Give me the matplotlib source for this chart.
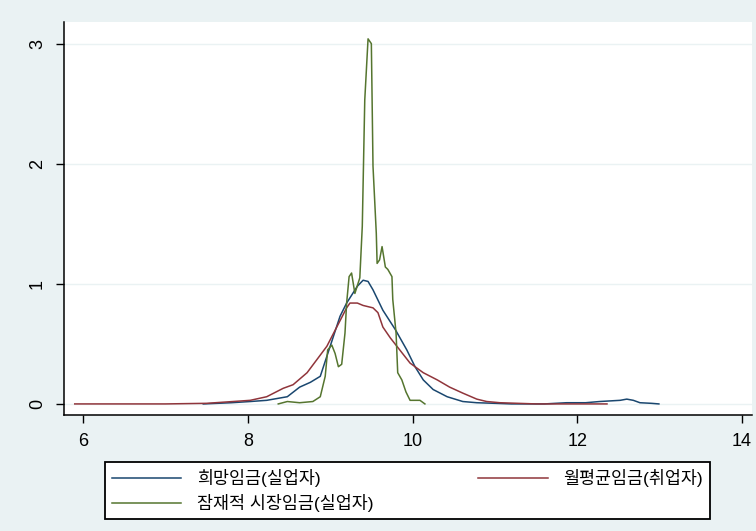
import numpy as np
import matplotlib
matplotlib.use("Agg")
import matplotlib.pyplot as plt

plt.rcParams['font.family'] = ['Liberation Sans', 'Noto Sans CJK KR', 'DejaVu Sans']

# kernel density curves (log wage, density)
hope_x = [7.46, 7.8, 8.03, 8.23, 8.48, 8.63, 8.76, 8.88, 9.0, 9.12, 9.2, 9.33, 9.4, 9.46,
          9.52, 9.64, 9.79, 9.93, 10.03, 10.13, 10.25, 10.42, 10.61, 10.78, 11.0, 11.2,
          11.6, 11.87, 12.1, 12.27, 12.52, 12.6, 12.68, 12.76, 12.9, 12.99]
hope_y = [0.0, 0.01, 0.02, 0.03, 0.06, 0.14, 0.18, 0.23, 0.48, 0.73, 0.84, 0.98, 1.03, 1.02,
          0.95, 0.78, 0.62, 0.45, 0.31, 0.2, 0.12, 0.06, 0.02, 0.01, 0.005, 0.0,
          0.0, 0.01, 0.01, 0.02, 0.03, 0.04, 0.03, 0.01, 0.005, 0.0]

emp_x = [5.9, 6.5, 7.0, 7.5, 7.82, 8.03, 8.23, 8.43, 8.55, 8.72, 8.84, 8.96, 9.08, 9.2,
         9.24, 9.33, 9.4, 9.52, 9.58, 9.64, 9.73, 9.81, 9.97, 10.13, 10.3, 10.45, 10.61,
         10.78, 10.9, 11.06, 11.5, 12.0, 12.36]
emp_y = [0.0, 0.0, 0.0, 0.005, 0.02, 0.03, 0.06, 0.13, 0.16, 0.26, 0.37, 0.48, 0.64, 0.8,
         0.84, 0.84, 0.82, 0.8, 0.76, 0.64, 0.55, 0.48, 0.34, 0.26, 0.2, 0.14, 0.09,
         0.04, 0.02, 0.01, 0.0, 0.0, 0.0]

pot_x = [8.37, 8.48, 8.63, 8.79, 8.88, 8.94, 8.97, 9.02, 9.06, 9.1, 9.14, 9.18, 9.2, 9.23,
         9.26, 9.3, 9.36, 9.39, 9.42, 9.46, 9.5, 9.52, 9.56, 9.57, 9.6, 9.63, 9.67, 9.7,
         9.75, 9.76, 9.8, 9.82, 9.87, 9.92, 9.97, 10.09, 10.15]
pot_y = [0.0, 0.02, 0.01, 0.02, 0.06, 0.23, 0.45, 0.49, 0.42, 0.31, 0.33, 0.59, 0.84, 1.06,
         1.09, 0.92, 1.05, 1.48, 2.53, 3.04, 3.0, 1.98, 1.42, 1.17, 1.2, 1.31, 1.14, 1.12,
         1.06, 0.87, 0.59, 0.26, 0.2, 0.1, 0.03, 0.03, 0.0]

labels = ['희망임금(실업자)', '월평균임금(취업자)', '잠재적 시장임금(실업자)']
xticks = [6, 8, 10, 12, 14]
yticks = [0, 1, 2, 3]

bg = '#eaf2f3'
fig = plt.figure(figsize=(7.56, 5.31), dpi=100, facecolor=bg)
ax = fig.add_axes([0.0847, 0.2185, 0.910, 0.740])
ax.set_facecolor('white')

for yv in yticks:
    ax.axhline(yv, color=bg, lw=1.0, zorder=0)

l1, = ax.plot(hope_x, hope_y, color='#1a476f', lw=1.1)
l2, = ax.plot(emp_x, emp_y, color='#90353b', lw=1.1)
l3, = ax.plot(pot_x, pot_y, color='#55752f', lw=1.1)

ax.set_xlim(5.77, 14.12)
ax.set_ylim(-0.092, 3.18)
ax.set_xticks(xticks)
ax.set_yticks(yticks)
ax.set_yticklabels([str(v) for v in yticks], rotation=90, va='center')
ax.tick_params(axis='both', direction='out', length=6, width=1, labelsize=13, colors='black')
ax.tick_params(axis='y', pad=7)
ax.tick_params(axis='x', pad=7)
for s in ['top', 'right']:
    ax.spines[s].set_visible(False)
for s in ['left', 'bottom']:
    ax.spines[s].set_linewidth(1.1)

leg = fig.legend([l1, l3, l2], [labels[0], labels[2], labels[1]], ncol=2,
                 loc='lower left', bbox_to_anchor=(0.139, 0.0226, 0.800, 0.113),
                 mode='expand', fancybox=False, edgecolor='black', framealpha=1,
                 fontsize=12.5, handlelength=4.0, borderpad=0.4, labelspacing=0.4,
                 handletextpad=0.9, borderaxespad=0, columnspacing=1.0)
leg.get_frame().set_linewidth(1.3)

fig.savefig('out.png', dpi=100, facecolor=bg)
